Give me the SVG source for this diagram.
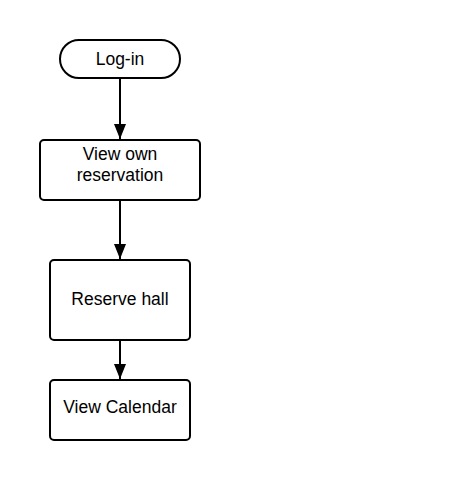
<svg xmlns="http://www.w3.org/2000/svg" width="449" height="480" viewBox="0 0 449 480">
<defs>
<style>
.n{fill:#fff;stroke:#000;stroke-width:2}
.t{font-family:"Liberation Sans",Arial,sans-serif;font-size:17.5px;fill:#000;text-anchor:middle}
.c{stroke:#000;stroke-width:2;fill:none}
</style>
<marker id="m" markerWidth="15" markerHeight="12" refX="15" refY="6" orient="auto" markerUnits="userSpaceOnUse">
<path d="M0,0 L15,6 L0,12 Z" fill="#000"/>
</marker>
</defs>
<rect width="449" height="480" fill="#fff"/>
<g id="connectors">
<line class="c" x1="120" y1="79" x2="120" y2="139" marker-end="url(#m)"/>
<line class="c" x1="120" y1="201" x2="120" y2="259" marker-end="url(#m)"/>
<line class="c" x1="120" y1="341" x2="120" y2="379" marker-end="url(#m)"/>
</g>
<g id="login">
<rect class="n" x="60" y="40" width="120" height="38" rx="19"/>
<text class="t" x="120" y="65">Log-in</text>
</g>
<g id="view-own">
<rect class="n" x="40" y="140" width="160" height="60" rx="4"/>
<text class="t" x="120" y="160">View own</text>
<text class="t" x="120" y="181">reservation</text>
</g>
<g id="reserve-hall">
<rect class="n" x="50" y="260" width="140" height="80" rx="4"/>
<text class="t" x="120" y="305">Reserve hall</text>
</g>
<g id="view-calendar">
<rect class="n" x="50" y="380" width="140" height="60" rx="4"/>
<text class="t" x="120" y="413">View Calendar</text>
</g>
</svg>
